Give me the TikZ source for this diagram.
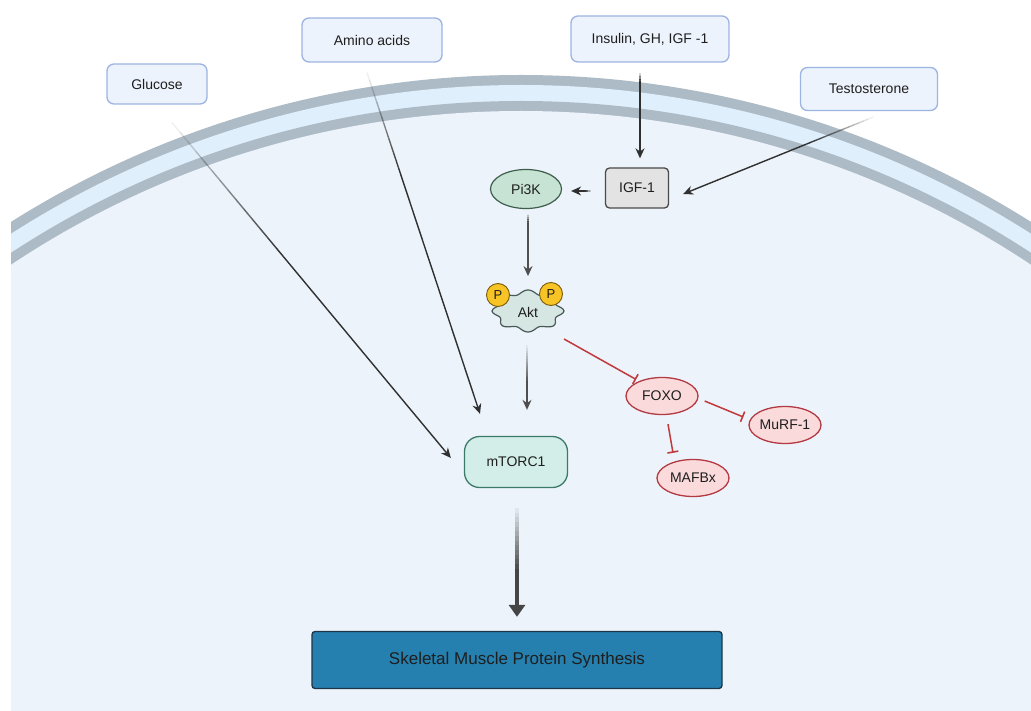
\documentclass[tikz,border=0pt]{standalone}
\usepackage{fontspec}
\setmainfont{Liberation Sans}
\usetikzlibrary{arrows.meta,calc,shapes.geometric}

\definecolor{cellin}{HTML}{EDF3FB}
\definecolor{memdark}{HTML}{ADBBC6}
\definecolor{memlight}{HTML}{E0EFFC}
\definecolor{inbox}{HTML}{EDF3FC}
\definecolor{inedge}{HTML}{9CB4E2}
\definecolor{pifill}{HTML}{C6E3D4}
\definecolor{piedge}{HTML}{3E5E4E}
\definecolor{igffill}{HTML}{E3E3E3}
\definecolor{igfedge}{HTML}{4A4A4A}
\definecolor{aktfill}{HTML}{D6E6E3}
\definecolor{aktedge}{HTML}{4A5A58}
\definecolor{mtfill}{HTML}{D3EEE8}
\definecolor{mtedge}{HTML}{3B7A68}
\definecolor{redfill}{HTML}{FADADB}
\definecolor{rededge}{HTML}{B33A42}
\definecolor{inhib}{HTML}{C0393B}
\definecolor{synfill}{HTML}{2680AF}
\definecolor{synedge}{HTML}{1E3547}
\definecolor{pfill}{HTML}{F7C325}
\definecolor{pedge}{HTML}{7A5C0A}
\definecolor{ink}{HTML}{1E1E1E}
\definecolor{arr}{HTML}{303030}

\tikzset{
  lbl/.style={font=\fontsize{14}{16}\selectfont, text=ink},
  inputbox/.style={lbl, draw=inedge, fill=inbox, line width=1.3pt, rounded corners=7pt},
  igfbox/.style={lbl, draw=igfedge, fill=igffill, line width=1.3pt, rounded corners=4pt,
    minimum width=63pt, minimum height=40pt},
  pibox/.style={lbl, ellipse, draw=piedge, fill=pifill, line width=1.2pt,
    minimum width=71pt, minimum height=39pt, inner sep=0pt},
  redbox/.style={lbl, ellipse, draw=rededge, fill=redfill, line width=1.3pt,
    minimum width=72pt, minimum height=37pt, inner sep=0pt},
  mtbox/.style={lbl, draw=mtedge, fill=mtfill, line width=1.3pt, rounded corners=15pt,
    minimum width=103pt, minimum height=51pt},
  synbox/.style={draw=synedge, fill=synfill, line width=1.3pt, rounded corners=3pt,
    minimum width=410pt, minimum height=57pt, text=ink,
    font=\fontsize{17}{20}\selectfont},
  phos/.style={circle, draw=pedge, fill=pfill, line width=0.9pt, minimum size=23pt,
    inner sep=0pt, font=\fontsize{13}{15}\selectfont, text=ink},
  tip/.style={-{Stealth[length=10pt,width=9pt]}},
  blocker/.style={draw=inhib, line width=1.5pt, -{Bar[width=11pt,line width=1.6pt]}},
}

% connector that fades in from its start: #1 start, #2 end, #3 faded share, #4 style
\newcommand{\fadeconn}[4]{%
  \foreach \k in {1,...,14}{%
    \draw[#4, opacity=\k/14]
      ($(#1)!{(\k-1)/14*#3}!(#2)$) -- ($(#1)!{\k/14*#3}!(#2)$);
  }%
  \draw[#4, tip] ($(#1)!#3!(#2)$) -- (#2);
}

\begin{document}
\begin{tikzpicture}[x=1pt, y=-1pt]
\useasboundingbox (0,0) rectangle (1031,711);
\fill[white] (0,0) rectangle (1031,711);

% cell body with its double membrane
\begin{scope}
  \clip (11,0) rectangle (1031,711);
  \fill[memdark]  (521,1033) circle[radius=958pt];
  \fill[memlight] (521,1033) circle[radius=948pt];
  \fill[memdark]  (521,1033) circle[radius=932pt];
  \fill[cellin]   (521,1033) circle[radius=922pt];
\end{scope}

% outside signals
\node[inputbox, minimum width=100pt, minimum height=40pt] (glu)   at (157,84)  {Glucose};
\node[inputbox, minimum width=140pt, minimum height=44pt] (amino) at (372,40)  {Amino acids};
\node[inputbox, minimum width=158pt, minimum height=46pt] (ins)   at (650,39)  {Insulin, GH, IGF -1};
\node[inputbox, minimum width=137pt, minimum height=43pt] (testo) at (869,89)  {Testosterone};

% pathway
\node[igfbox] (igf)  at (637,188) {IGF-1};
\node[pibox]  (pi3k) at (526,189) {Pi3K};

\coordinate (akt) at (528,311);
\begin{scope}[shift={(akt)}]
  \draw[fill=aktfill, draw=aktedge, line width=1.2pt]
    plot[smooth cycle, samples=72, domain=0:355, variable=\t]
      ({33*cos(\t)*(1+0.09*cos(8*\t))}, {19*sin(\t)*(1+0.11*cos(8*\t))});
\end{scope}
\node[lbl] (akttext) at ($(akt)+(0,1)$) {Akt};
\node[phos] (p1) at (498,295) {P};
\node[phos] (p2) at (551,294) {P};

\node[mtbox]  (mtor)  at (516,462) {mTORC1};
\node[redbox] (foxo)  at (662,396) {FOXO};
\node[redbox] (murf)  at (785,425) {MuRF-1};
\node[redbox] (mafbx) at (693,478) {MAFBx};
\node[synbox] (syn)   at (517,660) {Skeletal Muscle Protein Synthesis};

% connector ends
\coordinate (gluS)   at ($(glu.south)+(15,18)$);
\coordinate (gluE)   at ($(mtor.west)+(-13,-4)$);
\coordinate (amS)    at ($(amino.south)+(-5,10)$);
\coordinate (amE)    at ($(mtor.north)+(-36,-22)$);
\coordinate (insS)   at ($(ins.south)+(-10,10)$);
\coordinate (insE)   at ($(igf.north)+(3,-9)$);
\coordinate (teS)    at ($(testo.south)+(4,6)$);
\coordinate (teE)    at ($(igf.east)+(14,6)$);
\coordinate (igS)    at ($(igf.west)+(-14,3)$);
\coordinate (igE)    at ($(pi3k.east)+(9,2)$);
\coordinate (piS)    at ($(pi3k.south)+(2,5)$);
\coordinate (piE)    at ($(pi3k.south)+(2,67)$);
\coordinate (akS)    at ($(akt)+(-1,34)$);
\coordinate (akE)    at ($(mtor.north)+(11,-26)$);
\coordinate (mtS)    at ($(mtor.south)+(1,20)$);
\coordinate (mtE)    at ($(syn.north)+(0,-14)$);

% activating connectors
\fadeconn{gluS}{gluE}{0.4}{draw=arr, line width=1.4pt}
\fadeconn{amS}{amE}{0.3}{draw=arr, line width=1.4pt}
\fadeconn{teS}{teE}{0.35}{draw=arr, line width=1.4pt}
\fadeconn{insS}{insE}{0.12}{draw=arr, line width=1.4pt}
\fadeconn{igS}{igE}{0.4}{draw=arr, line width=1.4pt}
\fadeconn{piS}{piE}{0.15}{draw=arr!85!white, line width=1.4pt}
\fadeconn{akS}{akE}{0.6}{draw=arr!85!white, line width=1.4pt}

% thick output arrow
\foreach \k in {1,...,14}{
  \draw[draw=arr!90!white, line width=4pt, opacity=\k/14]
    ($(mtS)!{(\k-1)/14*0.6}!(mtE)$) -- ($(mtS)!{\k/14*0.6}!(mtE)$);
}
\draw[draw=arr!90!white, line width=4pt, -{Triangle[length=12pt,width=16pt]}]
  ($(mtS)!0.6!(mtE)$) -- (mtE);

% inhibitory connectors
\draw[blocker] ($(akt)+(36,28)$) -- ($(foxo.north west)+(0,-3)$);
\draw[blocker] ($(foxo.east)+(6,5)$) -- ($(murf.west)+(-5,-8)$);
\draw[blocker] ($(foxo.south)+(6,9)$) -- ($(mafbx.north)+(-20,-6)$);
\end{tikzpicture}
\end{document}
